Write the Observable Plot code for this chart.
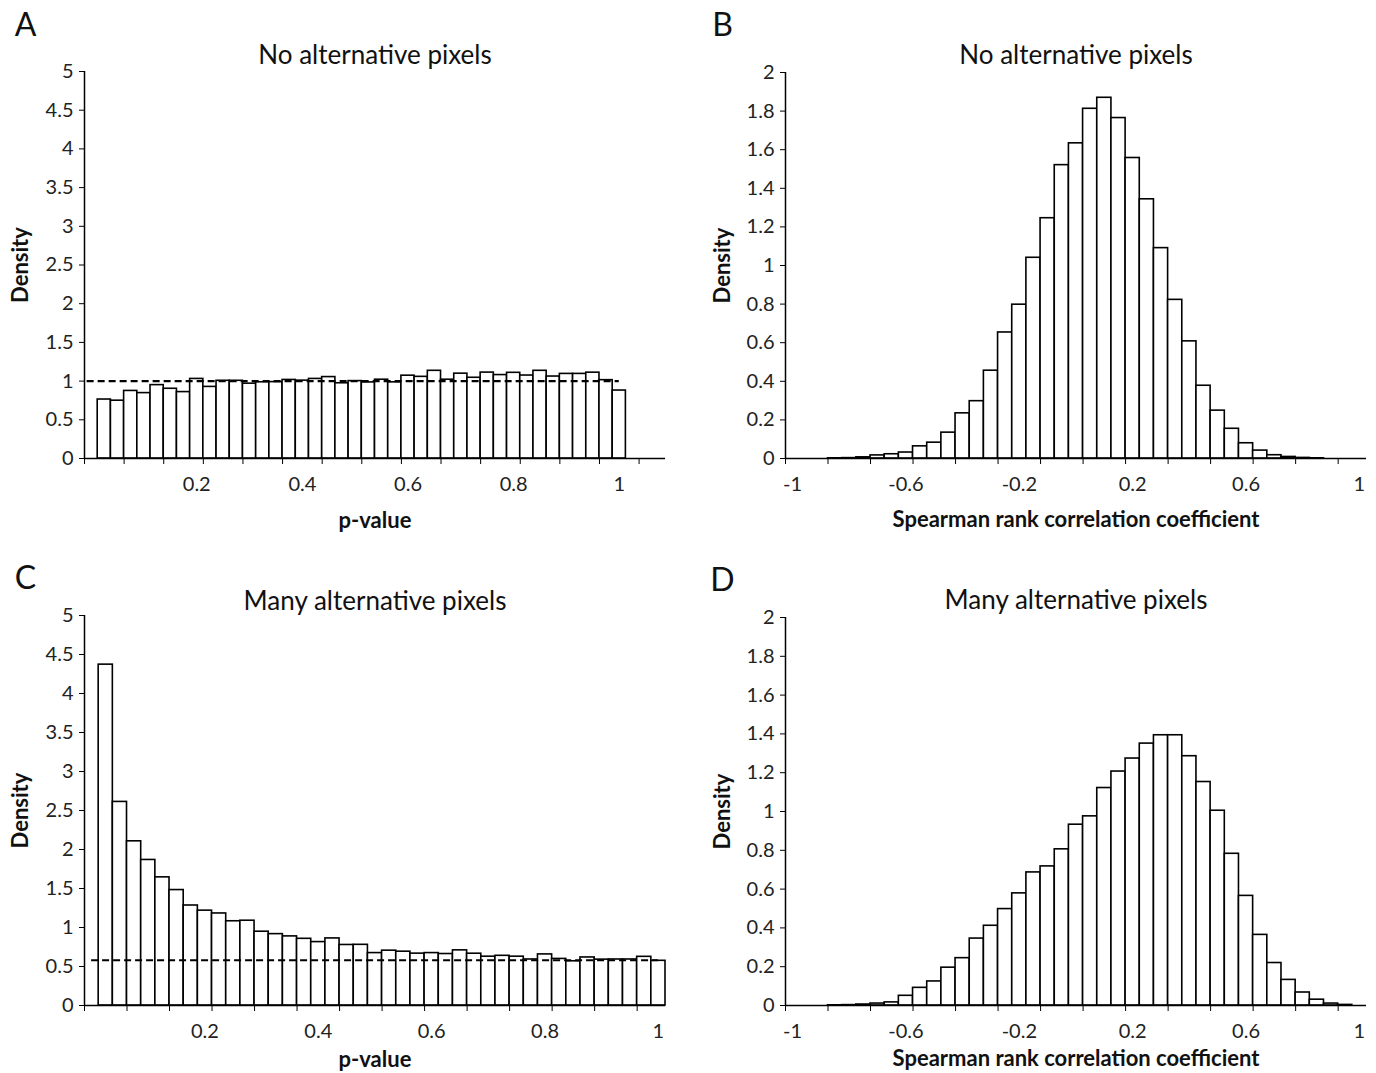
<!DOCTYPE html>
<html>
<head>
<meta charset="utf-8">
<script src="https://cdn.jsdelivr.net/npm/d3@7"></script>
<script src="https://cdn.jsdelivr.net/npm/@observablehq/plot@0.6"></script>
<style>
  html, body { margin: 0; padding: 0; background: white; }
  #root { position: relative; width: 1376px; height: 1073px; overflow: hidden; background: white; }
  .panel { position: absolute; }
</style>
</head>
<body>
<div id="root"></div>
<script>
// ---------------- data ----------------
// p-value histograms: 40 bins of width 0.025 on [0, 1]
const pBinWidth = 0.025;
const pDensityNoAlt = [
  0.762, 0.747, 0.873, 0.845, 0.948, 0.901, 0.858, 1.028, 0.925, 1.004,
  1.004, 0.967, 0.985, 0.987, 1.015, 1.006, 1.028, 1.052, 0.972, 1.000,
  0.983, 1.018, 0.984, 1.070, 1.055, 1.133, 1.018, 1.096, 1.043, 1.110,
  1.078, 1.107, 1.072, 1.133, 1.059, 1.093, 1.093, 1.109, 1.012, 0.878
];
const pDensityManyAlt = [
  4.370, 2.610, 2.105, 1.866, 1.643, 1.480, 1.282, 1.216, 1.180, 1.080,
  1.087, 0.946, 0.915, 0.886, 0.855, 0.813, 0.860, 0.776, 0.778, 0.672,
  0.703, 0.690, 0.665, 0.672, 0.660, 0.707, 0.664, 0.626, 0.637, 0.626,
  0.590, 0.655, 0.597, 0.567, 0.616, 0.588, 0.590, 0.590, 0.624, 0.573
];
const uniformLevelNoAlt = 1.0;
const uniformLevelManyAlt = 0.58;
const pTickLabels = ["0.2", "0.4", "0.6", "0.8", "1"];

// Spearman histograms: 41 categories, labelled by upper bound -1, -0.95, ..., 1
const rhoBinWidth = 0.05;
const rhoFirstUpper = -1;
const rhoDensityNoAlt = [
  0, 0, 0, 0.001, 0.002, 0.006, 0.016, 0.022, 0.031, 0.063,
  0.082, 0.134, 0.234, 0.297, 0.455, 0.653, 0.797, 1.040, 1.245, 1.520,
  1.633, 1.812, 1.869, 1.764, 1.557, 1.343, 1.090, 0.822, 0.607, 0.377,
  0.248, 0.154, 0.079, 0.041, 0.017, 0.008, 0.003, 0.001, 0, 0,
  0
];
const rhoDensityManyAlt = [
  0, 0, 0, 0.001, 0.002, 0.005, 0.010, 0.016, 0.050, 0.091,
  0.124, 0.195, 0.244, 0.345, 0.411, 0.497, 0.578, 0.686, 0.717, 0.805,
  0.932, 0.975, 1.121, 1.206, 1.273, 1.350, 1.393, 1.393, 1.285, 1.152,
  1.004, 0.782, 0.565, 0.364, 0.219, 0.132, 0.067, 0.030, 0.010, 0.003,
  0
];
const rhoTickLabels = ["-1", "-0.6", "-0.2", "0.2", "0.6", "1"];

const pYTicks = [0, 0.5, 1, 1.5, 2, 2.5, 3, 3.5, 4, 4.5, 5];
const rhoYTicks = [0, 0.2, 0.4, 0.6, 0.8, 1, 1.2, 1.4, 1.6, 1.8, 2];

// ---------------- drawing ----------------
const FONT = "Lato, 'Open Sans', 'DejaVu Sans', sans-serif";

function histPanel(cfg) {
  const {values, binWidth, firstUpper, xDomain, yMax, yTicks, tickLabels,
         refLevel, refRange, title, letter, xLabel, width, height, margin, offs} = cfg;
  const rows = values.map((v, i) => {
    const hi = firstUpper + i * binWidth;
    return {x1: hi - binWidth, x2: hi, y: v};
  });
  // minor ticks every 3 categories starting at the axis origin
  const minor = [];
  for (let k = 0; xDomain[0] + k * 3 * binWidth <= xDomain[1] + 1e-9; k++) {
    minor.push(xDomain[0] + k * 3 * binWidth);
  }
  // labels sit at the centre of the category whose upper bound they name
  const labelMap = new Map(tickLabels.map(l => [+l - binWidth / 2, l]));
  const labelPos = Array.from(labelMap.keys());

  const marks = [
    Plot.rectY(rows, {x1: "x1", x2: "x2", y: "y", fill: "white", stroke: "black", strokeWidth: 1.6}),
    refLevel != null
      ? Plot.ruleY([refLevel], {x1: refRange[0], x2: refRange[1], stroke: "black", strokeWidth: 2.2, strokeDasharray: "7,4"})
      : null,
    Plot.ruleY([0], {stroke: "black", strokeWidth: 1.5}),
    Plot.ruleX([xDomain[0]], {stroke: "black", strokeWidth: 1.5}),
    Plot.axisY({ticks: yTicks, tickSize: 5, tickPadding: 6, tickFormat: d3.format("~g"), label: null, fill: "#222", fontSize: 20}),
    Plot.axisX({ticks: minor, tickSize: 6, tickFormat: () => "", label: null}),
    Plot.axisX({ticks: labelPos, tickSize: 0, tickPadding: 18, tickFormat: d => labelMap.get(d), label: null, fill: "#222", fontSize: 20}),
    Plot.text([title], {frameAnchor: "top", dy: offs.title, fontSize: 26, fill: "#111", textAnchor: "middle", lineAnchor: "middle"}),
    Plot.text([letter], {frameAnchor: "top-left", dx: offs.letterX, dy: offs.letterY, fontSize: 32, fill: "#111", textAnchor: "middle", lineAnchor: "middle"}),
    Plot.text(["Density"], {frameAnchor: "left", rotate: -90, dx: offs.yLabel, fontSize: 22, fontWeight: "bold", fill: "#111", textAnchor: "middle", lineAnchor: "middle"}),
    Plot.text([xLabel], {frameAnchor: "bottom", dy: offs.xLabel, fontSize: 22, fontWeight: "bold", fill: "#111", textAnchor: "middle", lineAnchor: "middle"})
  ].filter(Boolean);

  return Plot.plot({
    width, height,
    marginLeft: margin.left, marginRight: margin.right,
    marginTop: margin.top, marginBottom: margin.bottom,
    x: {domain: xDomain},
    y: {domain: [0, yMax]},
    style: {fontFamily: FONT, fontSize: "20px", background: "white", color: "black", overflow: "visible"},
    marks
  });
}

const root = document.getElementById("root");
function place(svg, left, top) {
  const d = document.createElement("div");
  d.className = "panel";
  d.style.left = left + "px";
  d.style.top = top + "px";
  d.appendChild(svg);
  root.appendChild(d);
}

place(histPanel({
  values: pDensityNoAlt, binWidth: pBinWidth, firstUpper: pBinWidth,
  xDomain: [-0.025, 1.075], yMax: 5, yTicks: pYTicks, tickLabels: pTickLabels,
  refLevel: uniformLevelNoAlt, refRange: [-0.02, 0.9875],
  title: "No alternative pixels", letter: "A", xLabel: "p-value",
  width: 688, height: 540, margin: {left: 84, right: 23, top: 71, bottom: 82},
  offs: {title: -16, letterX: -59, letterY: -46, yLabel: -64, xLabel: 62}
}), 0, 0);

place(histPanel({
  values: rhoDensityNoAlt, binWidth: rhoBinWidth, firstUpper: rhoFirstUpper,
  xDomain: [-1.05, 1.0], yMax: 2, yTicks: rhoYTicks, tickLabels: rhoTickLabels,
  refLevel: null,
  title: "No alternative pixels", letter: "B", xLabel: "Spearman rank correlation coefficient",
  width: 688, height: 540, margin: {left: 97, right: 10, top: 72, bottom: 82},
  offs: {title: -17, letterX: -63, letterY: -47, yLabel: -63, xLabel: 61}
}), 688, 0);

place(histPanel({
  values: pDensityManyAlt, binWidth: pBinWidth, firstUpper: pBinWidth,
  xDomain: [-0.025, 1.0], yMax: 5, yTicks: pYTicks, tickLabels: pTickLabels,
  refLevel: uniformLevelManyAlt, refRange: [-0.0125, 0.9875],
  title: "Many alternative pixels", letter: "C", xLabel: "p-value",
  width: 688, height: 533, margin: {left: 84, right: 23, top: 75, bottom: 68},
  offs: {title: -14, letterX: -59, letterY: -37, yLabel: -64, xLabel: 54}
}), 0, 540);

place(histPanel({
  values: rhoDensityManyAlt, binWidth: rhoBinWidth, firstUpper: rhoFirstUpper,
  xDomain: [-1.05, 1.0], yMax: 2, yTicks: rhoYTicks, tickLabels: rhoTickLabels,
  refLevel: null,
  title: "Many alternative pixels", letter: "D", xLabel: "Spearman rank correlation coefficient",
  width: 688, height: 533, margin: {left: 97, right: 10, top: 77, bottom: 68},
  offs: {title: -17, letterX: -63, letterY: -37, yLabel: -63, xLabel: 53}
}), 688, 540);
</script>
</body>
</html>
